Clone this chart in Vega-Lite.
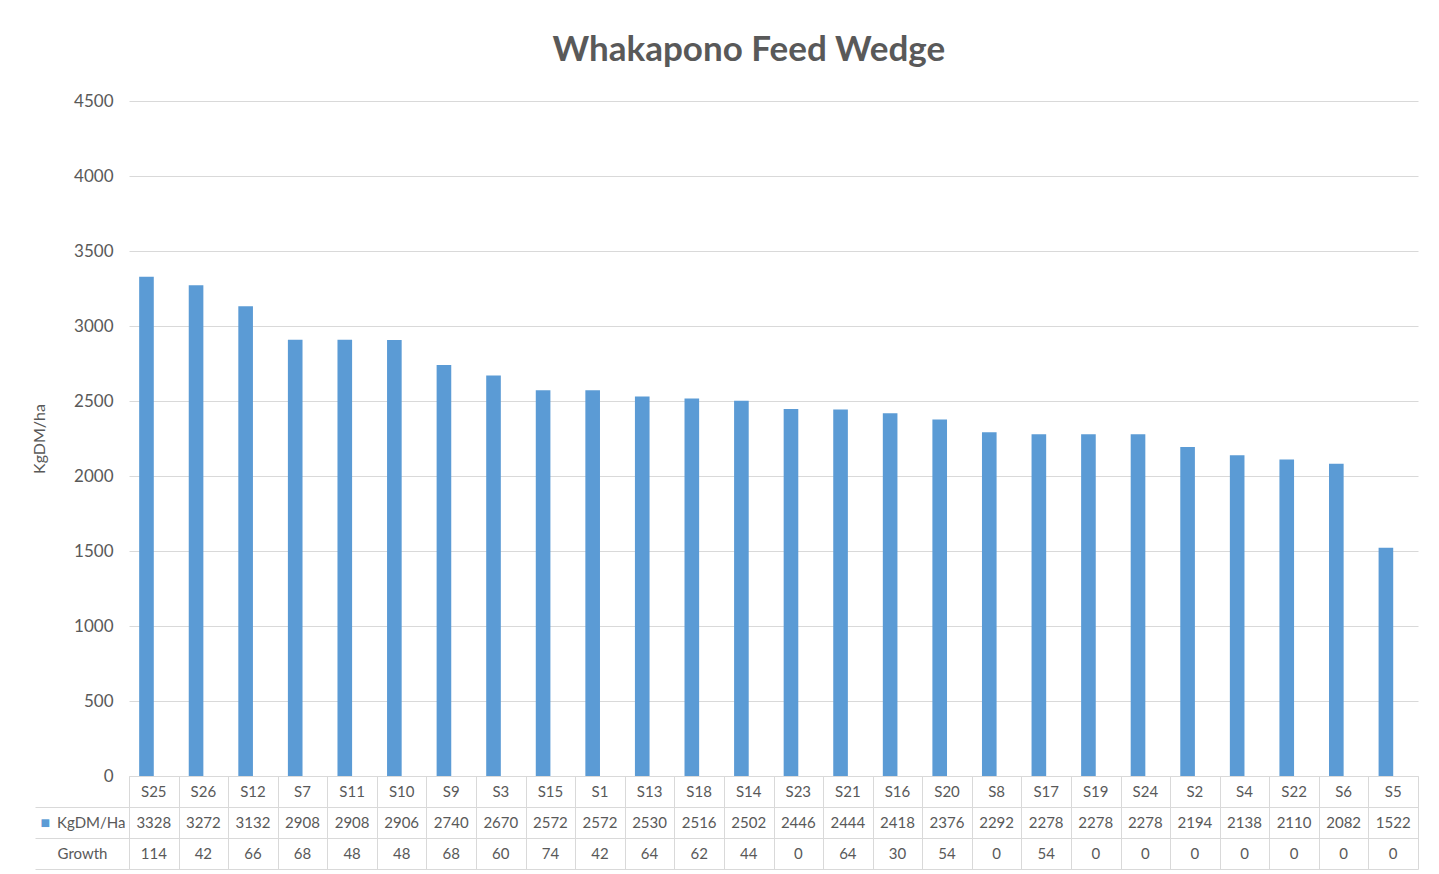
{
  "$schema": "https://vega.github.io/schema/vega-lite/v6.json",
  "background": "white",
  "padding": {"left": 31, "top": 33, "right": 15, "bottom": 5},
  "bounds": "flush",
  "title": {
    "text": "Whakapono Feed Wedge",
    "font": "Lato",
    "fontSize": 35,
    "fontWeight": "bold",
    "color": "#595959",
    "anchor": "middle",
    "dx": 24,
    "offset": 24
  },
  "datasets": {
    "wedge": [
      {"paddock": "S25", "kg": 3328, "growth": 114},
      {"paddock": "S26", "kg": 3272, "growth": 42},
      {"paddock": "S12", "kg": 3132, "growth": 66},
      {"paddock": "S7", "kg": 2908, "growth": 68},
      {"paddock": "S11", "kg": 2908, "growth": 48},
      {"paddock": "S10", "kg": 2906, "growth": 48},
      {"paddock": "S9", "kg": 2740, "growth": 68},
      {"paddock": "S3", "kg": 2670, "growth": 60},
      {"paddock": "S15", "kg": 2572, "growth": 74},
      {"paddock": "S1", "kg": 2572, "growth": 42},
      {"paddock": "S13", "kg": 2530, "growth": 64},
      {"paddock": "S18", "kg": 2516, "growth": 62},
      {"paddock": "S14", "kg": 2502, "growth": 44},
      {"paddock": "S23", "kg": 2446, "growth": 0},
      {"paddock": "S21", "kg": 2444, "growth": 64},
      {"paddock": "S16", "kg": 2418, "growth": 30},
      {"paddock": "S20", "kg": 2376, "growth": 54},
      {"paddock": "S8", "kg": 2292, "growth": 0},
      {"paddock": "S17", "kg": 2278, "growth": 54},
      {"paddock": "S19", "kg": 2278, "growth": 0},
      {"paddock": "S24", "kg": 2278, "growth": 0},
      {"paddock": "S2", "kg": 2194, "growth": 0},
      {"paddock": "S4", "kg": 2138, "growth": 0},
      {"paddock": "S22", "kg": 2110, "growth": 0},
      {"paddock": "S6", "kg": 2082, "growth": 0},
      {"paddock": "S5", "kg": 1522, "growth": 0}
    ]
  },
  "data": {"name": "wedge"},
  "spacing": 0,
  "resolve": {"scale": {"x": "independent", "y": "independent"}},
  "config": {
    "view": {"stroke": null},
    "font": "Lato",
    "axis": {"labelFont": "Lato", "titleFont": "Lato", "labelColor": "#595959", "titleColor": "#595959"}
  },
  "vconcat": [
    {
      "width": 1289,
      "height": 675,
      "mark": {"type": "bar", "color": "#5B9BD5"},
      "encoding": {
        "x": {
          "field": "paddock",
          "type": "nominal",
          "sort": null,
          "scale": {"paddingInner": 0.41, "paddingOuter": 0.205},
          "axis": null
        },
        "xOffset": {
          "datum": "KgDM/Ha",
          "type": "nominal",
          "scale": {"domain": ["KgDM/Ha", "Growth"], "paddingInner": 0, "paddingOuter": 0}
        },
        "y": {
          "field": "kg",
          "type": "quantitative",
          "scale": {"domain": [0, 4500], "nice": false},
          "axis": {
            "values": [0, 500, 1000, 1500, 2000, 2500, 3000, 3500, 4000, 4500],
            "format": "d",
            "title": "KgDM/ha",
            "titleFontSize": 16,
            "titleFontWeight": "normal",
            "titlePadding": 26,
            "labelFontSize": 17,
            "labelPadding": 16,
            "ticks": false,
            "domain": false,
            "gridColor": "#D9D9D9",
            "gridWidth": 1
          }
        }
      }
    },
    {
      "width": 1289,
      "height": 93,
      "layer": [
        {
          "mark": {"type": "text", "fontSize": 15, "color": "#595959", "font": "Lato"},
          "encoding": {
            "x": {
              "field": "paddock",
              "type": "nominal",
              "sort": null,
              "scale": {"paddingInner": 0, "paddingOuter": 0},
              "axis": {
                "orient": "top",
                "grid": true,
                "tickBand": "extent",
                "gridColor": "#D9D9D9",
                "labels": false,
                "ticks": false,
                "domain": false,
                "title": null
              }
            },
            "y": {
              "datum": "cat",
              "type": "nominal",
              "scale": {"type": "band", "domain": ["cat", "KgDM/Ha", "Growth"], "paddingInner": 0, "paddingOuter": 0},
              "axis": {
                "orient": "left",
                "grid": true,
                "gridColor": "#D9D9D9",
                "tickBand": "extent",
                "ticks": true,
                "tickSize": 94,
                "tickColor": {"condition": {"test": "datum.extra", "value": "rgba(0,0,0,0)"}, "value": "#D9D9D9"},
                "domain": false,
                "labelExpr": "datum.value === 'cat' ? '' : datum.value",
                "labelAlign": {"condition": {"test": "datum.value === 'KgDM/Ha'", "value": "right"}, "value": "center"},
                "labelPadding": {"condition": {"test": "datum.value === 'KgDM/Ha'", "value": -90}, "value": -47},
                "labelBaseline": "middle",
                "labelFontSize": 15,
                "title": null
              }
            },
            "text": {"field": "paddock"}
          }
        },
        {
          "mark": {"type": "text", "fontSize": 15, "color": "#595959", "font": "Lato"},
          "encoding": {
            "x": {"field": "paddock", "type": "nominal", "sort": null},
            "y": {
              "datum": "KgDM/Ha",
              "type": "nominal",
              "axis": {
                "orient": "left",
                "grid": false,
                "ticks": false,
                "tickSize": 0,
                "domain": false,
                "labelExpr": "datum.value === 'KgDM/Ha' ? '\u25A0' : ''",
                "labelColor": "#5B9BD5",
                "labelAlign": "left",
                "labelBaseline": "middle",
                "labelPadding": 89,
                "labelFontSize": 16,
                "title": null
              }
            },
            "text": {"field": "kg"}
          }
        },
        {
          "mark": {"type": "text", "fontSize": 15, "color": "#595959", "font": "Lato"},
          "encoding": {
            "x": {"field": "paddock", "type": "nominal", "sort": null},
            "y": {"datum": "Growth", "type": "nominal", "axis": null},
            "text": {"field": "growth"}
          }
        }
      ],
      "resolve": {"axis": {"y": "independent"}}
    }
  ]
}
